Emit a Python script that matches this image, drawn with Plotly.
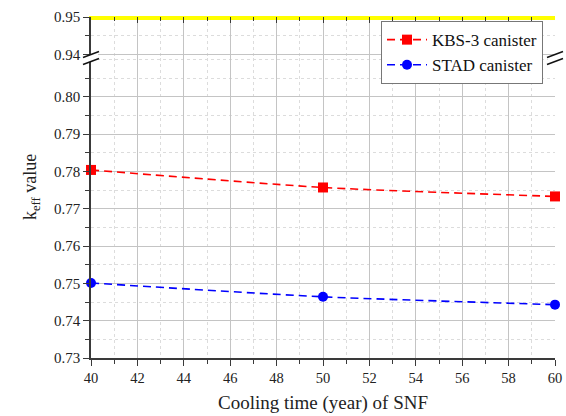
import plotly.graph_objects as go

cooling_years = [40, 50, 60]
kbs3_keff = [0.7804, 0.7757, 0.7733]
stad_keff = [0.7501, 0.7464, 0.7443]
limit_keff = 0.95
x_ticks = [40, 42, 44, 46, 48, 50, 52, 54, 56, 58, 60]
y_ticks_low = [0.73, 0.74, 0.75, 0.76, 0.77, 0.78, 0.79, 0.80]
y_ticks_high = [0.94, 0.95]

FONT = "Liberation Serif"
AX = "#3a3a3a"
GRID = "#c4c4c4"
MINOR = "#dcdcdc"

fig = go.Figure()
fig.add_trace(go.Scatter(
    x=cooling_years, y=kbs3_keff, name="KBS-3 canister", mode="lines+markers",
    line=dict(color="#ff0000", width=1.6, dash="8px,5px", shape="spline", smoothing=0.6),
    marker=dict(symbol="square", size=10, color="#ff0000"),
    xaxis="x", yaxis="y", cliponaxis=False))
fig.add_trace(go.Scatter(
    x=cooling_years, y=stad_keff, name="STAD canister", mode="lines+markers",
    line=dict(color="#0000ff", width=1.6, dash="8px,5px", shape="spline", smoothing=0.6),
    marker=dict(symbol="circle", size=10, color="#0000ff"),
    xaxis="x", yaxis="y", cliponaxis=False))
fig.add_trace(go.Scatter(
    x=[x_ticks[0], x_ticks[-1]], y=[limit_keff, limit_keff], mode="lines",
    line=dict(color="#ffff00", width=6), showlegend=False, hoverinfo="skip",
    xaxis="x2", yaxis="y2"))

W, H = 566, 416
split = 300 / 341
xr = [40, 60]
low_range = [0.73, 0.8104]
high_range = [0.939, 0.95]

common_minor_y = dict(dtick=0.005, ticklen=4, tickcolor=AX, showgrid=True,
                      gridcolor=MINOR, griddash="dot", gridwidth=1)

fig.update_layout(
    width=W, height=H,
    margin=dict(l=91, r=11, t=17, b=58, pad=0, autoexpand=False),
    paper_bgcolor="white", plot_bgcolor="white",
    font=dict(family=FONT, color="#222", size=15),
    showlegend=True,
    legend=dict(x=0.625, y=0.988, xanchor="left", yanchor="top",
                bgcolor="white", bordercolor="#777", borderwidth=1,
                font=dict(family=FONT, size=17, color="#111"),
                itemwidth=40, tracegroupgap=0),
    xaxis=dict(domain=[0, 1], anchor="y", range=xr, tickvals=x_ticks, automargin=False,
               ticks="outside", ticklen=6, tickwidth=1.3, tickcolor=AX,
               showline=True, linecolor=AX, linewidth=1.6,
               showgrid=True, gridcolor=GRID, gridwidth=1,
               minor=dict(dtick=1, ticks="outside", ticklen=4, tickcolor=AX,
                          showgrid=True, gridcolor=MINOR, griddash="dot"),
               tickfont=dict(family=FONT, size=14.5),
               title=dict(text="Cooling time (year) of SNF", standoff=10,
                          font=dict(family=FONT, size=19)),
               zeroline=False),
    xaxis2=dict(domain=[0, 1], anchor="y2", matches="x", range=xr, side="top",
                automargin=False,
                tickvals=x_ticks, ticks="inside", ticklen=6, tickcolor=AX,
                showticklabels=False, showline=True, linecolor="#ffff00", linewidth=1,
                showgrid=True, gridcolor=GRID,
                minor=dict(dtick=1, ticks="inside", ticklen=4, tickcolor=AX,
                           showgrid=True, gridcolor=MINOR, griddash="dot"),
                zeroline=False),
    yaxis=dict(domain=[0, split], anchor="x", range=low_range, tickvals=y_ticks_low,
               ticktext=[f"{v:.2f}" for v in y_ticks_low], automargin=False,
               ticks="outside", ticklen=6, tickwidth=1.3, tickcolor=AX,
               showline=True, linecolor=AX, linewidth=1.6,
               showgrid=True, gridcolor=GRID,
               minor=dict(ticks="outside", **common_minor_y),
               tickfont=dict(family=FONT, size=15), zeroline=False),
    yaxis2=dict(domain=[split, 1], anchor="x2", range=high_range, tickvals=y_ticks_high,
                ticktext=[f"{v:.2f}" for v in y_ticks_high], automargin=False,
                ticks="outside", ticklen=6, tickwidth=1.3, tickcolor=AX,
                showline=True, linecolor=AX, linewidth=1.6,
                showgrid=True, gridcolor=GRID,
                minor=dict(ticks="outside", **common_minor_y),
                tickfont=dict(family=FONT, size=15), zeroline=False),
    yaxis3=dict(overlaying="y", side="right", anchor="x", range=low_range,
                tickvals=y_ticks_low, showticklabels=False, automargin=False,
                ticks="inside", ticklen=6, tickcolor=AX,
                showline=True, linecolor=AX, linewidth=1.6, showgrid=False,
                minor=dict(dtick=0.005, ticks="inside", ticklen=4, tickcolor=AX, showgrid=False),
                zeroline=False),
    yaxis4=dict(overlaying="y2", side="right", anchor="x2", range=high_range,
                tickvals=y_ticks_high, showticklabels=False, automargin=False,
                ticks="inside", ticklen=6, tickcolor=AX,
                showline=True, linecolor=AX, linewidth=1.6, showgrid=False,
                minor=dict(dtick=0.005, ticks="inside", ticklen=4, tickcolor=AX, showgrid=False),
                zeroline=False),
)

# y-axis title (with subscript), centred on the whole broken axis
fig.add_annotation(text="k<sub>eff</sub> value", xref="paper", yref="paper",
                   x=0, y=0.5, xshift=-73, textangle=-90, showarrow=False,
                   font=dict(family=FONT, size=18, color="#222"))

# axis-break marks on left and right axes
pw, ph = 464.0, 341.0
for xp in (0.0, 1.0):
    fig.add_shape(type="path", xref="paper", yref="paper",
                  path=(f"M {xp - 7/pw},{split - 6/ph} L {xp + 7/pw},{split - 1/ph} "
                        f"L {xp + 7/pw},{split + 6/ph} L {xp - 7/pw},{split + 1/ph} Z"),
                  fillcolor="white", line=dict(width=0), layer="above")
    for off in (-3.5, 3.5):
        fig.add_shape(type="line", xref="paper", yref="paper",
                      x0=xp - 8/pw, y0=split + (off - 3)/ph,
                      x1=xp + 8/pw, y1=split + (off + 3)/ph,
                      line=dict(color="#111", width=1.4), layer="above")

fig.write_html("out.html", config={"displayModeBar": False},
               post_script="document.body.style.margin='0';document.body.style.overflow='hidden';")
